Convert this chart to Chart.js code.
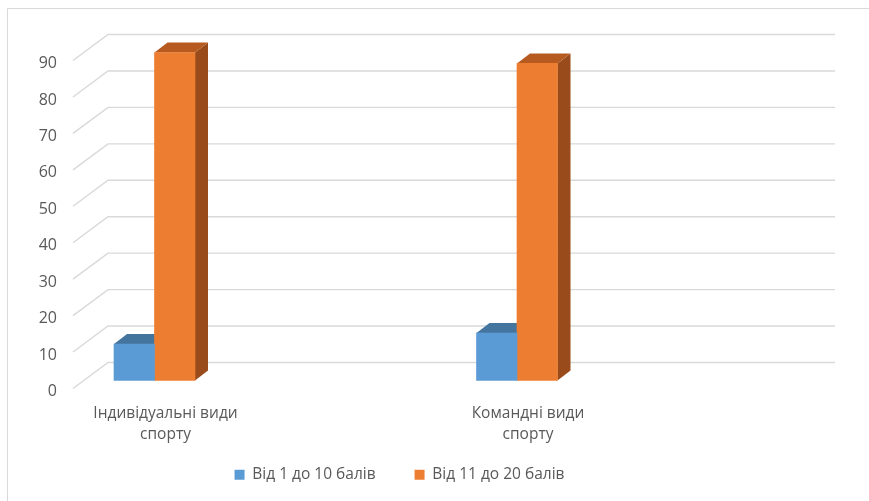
<!DOCTYPE html>
<html>
<head>
<meta charset="utf-8">
<script src="https://cdn.jsdelivr.net/npm/chart.js@4/dist/chart.umd.min.js"></script>
<style>
  html, body { margin: 0; padding: 0; background: #ffffff; }
  #wrap { width: 869px; height: 501px; position: relative; }
</style>
</head>
<body>
<div id="wrap"><canvas id="c" width="869" height="501"></canvas></div>
<script>
// ---- data ----
const categories = [['Індивідуальні види', 'спорту'], ['Командні види', 'спорту']];
const seriesNames = ['Від 1 до 10 балів', 'Від 11 до 20 балів'];
const series1 = [10, 13];
const series2 = [90, 87];
const yMin = 0;
const yMax = 90;
const yStep = 10;

// ---- styling ----
const FONT = "'Open Sans', 'Noto Sans', sans-serif";
const TEXT = '#595959';
const GRID = '#D9D9D9';
const frontColors = ['#5B9BD5', '#ED7D31'];
const topColors = ['#44759F', '#B65A20'];
const sideColors = ['#3A6690', '#9A4B1B'];
const DX = 13, DY = -10;             // bar depth projection
const FRONT_DX = -35, FRONT_DY = 8;  // floor front edge relative to bar plane
const BACK_DY = -18;                 // back wall relative to bar plane
const BACK_X0 = 108, BACK_X1 = 835;

const framePlugin = {
  id: 'frame',
  beforeDraw(chart) {
    const ctx = chart.ctx;
    ctx.save();
    ctx.fillStyle = '#ffffff';
    ctx.fillRect(0, 0, chart.width, chart.height);
    ctx.strokeStyle = GRID;
    ctx.lineWidth = 1;
    ctx.beginPath();
    ctx.moveTo(7.5, chart.height);
    ctx.lineTo(7.5, 8.5);
    ctx.lineTo(chart.width, 8.5);
    ctx.stroke();
    ctx.restore();
  }
};

const wallPlugin = {
  id: 'wall',
  beforeDatasetsDraw(chart) {
    const ctx = chart.ctx;
    const ys = chart.scales.y;
    ctx.save();
    ctx.strokeStyle = GRID;
    ctx.lineWidth = 1.4;
    ys.ticks.forEach(t => {
      const y = ys.getPixelForValue(t.value);
      ctx.beginPath();
      ctx.moveTo(BACK_X0 + FRONT_DX, y + FRONT_DY);
      ctx.lineTo(BACK_X0, y + BACK_DY);
      ctx.lineTo(BACK_X1, y + BACK_DY);
      ctx.stroke();
    });
    // 3D faces (top & side), drawn before the front faces that Chart.js draws
    chart.data.datasets.forEach((ds, di) => {
      const meta = chart.getDatasetMeta(di);
      meta.data.forEach(el => {
        const p = el.getProps(['x', 'y', 'base', 'width'], true);
        const l = p.x - p.width / 2, r = p.x + p.width / 2;
        const top = Math.min(p.y, p.base), bot = Math.max(p.y, p.base);
        ctx.fillStyle = sideColors[di];
        ctx.beginPath();
        ctx.moveTo(r, top);
        ctx.lineTo(r + DX, top + DY);
        ctx.lineTo(r + DX, bot + DY);
        ctx.lineTo(r, bot);
        ctx.closePath();
        ctx.fill();
        ctx.fillStyle = topColors[di];
        ctx.beginPath();
        ctx.moveTo(l, top);
        ctx.lineTo(r, top);
        ctx.lineTo(r + DX, top + DY);
        ctx.lineTo(l + DX, top + DY);
        ctx.closePath();
        ctx.fill();
      });
    });
    ctx.restore();
  }
};

const hiddenAxis = (pos, w, weight) => ({
  position: pos,
  display: true,
  weight: weight,
  grid: { display: false, drawTicks: false },
  border: { display: false },
  ticks: { display: false },
  afterFit(scale) { scale.width = w; }
});

new Chart(document.getElementById('c'), {
  type: 'bar',
  data: {
    labels: categories,
    datasets: [
      { label: seriesNames[0], data: series1, backgroundColor: frontColors[0], clip: false },
      { label: seriesNames[1], data: series2, backgroundColor: frontColors[1], clip: false }
    ]
  },
  plugins: [framePlugin, wallPlugin],
  options: {
    responsive: false,
    animation: false,
    devicePixelRatio: 1,
    layout: { padding: { left: 0, right: 70, top: 52.5, bottom: 8.5 } },
    datasets: { bar: { barThickness: 40.5, grouped: true } },
    plugins: {
      tooltip: { enabled: false },
      legend: {
        position: 'bottom',
        align: 'center',
        labels: {
          boxWidth: 10,
          boxHeight: 10,
          padding: 39,
          color: TEXT,
          font: { family: FONT, size: 15.5 }
        }
      }
    },
    scales: {
      x: {
        type: 'category',
        offset: false,
        grid: { display: false, drawTicks: false, offset: false },
        border: { display: false },
        afterFit(scale) { scale.height = 47.5; },
        ticks: {
          autoSkip: false,
          maxRotation: 0,
          minRotation: 0,
          mirror: true,
          padding: -44,
          labelOffset: 11,
          color: TEXT,
          font: { family: FONT, size: 15.5, lineHeight: 1.36 }
        }
      },
      y: {
        min: yMin,
        max: yMax,
        weight: 1,
        grid: { display: false, drawTicks: false },
        border: { display: false },
        afterFit(scale) { scale.width = 73; },
        ticks: {
          stepSize: yStep,
          padding: 16,
          labelOffset: 11,
          color: TEXT,
          font: { family: FONT, size: 16 }
        }
      },
      yGap: hiddenAxis('left', 81.5, 0),
      yRight: hiddenAxis('right', 282, 0)
    }
  }
});
</script>
</body>
</html>
